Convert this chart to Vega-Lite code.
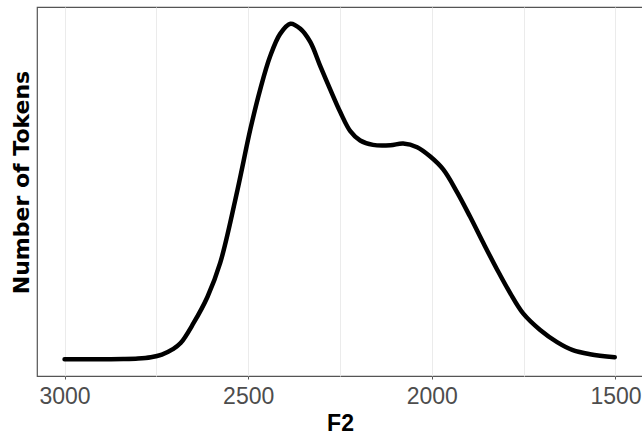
{
  "$schema": "https://vega.github.io/schema/vega-lite/v6.json",
  "autosize": "none",
  "padding": {"top": 7, "left": 37, "right": 0, "bottom": 60},
  "width": 606,
  "height": 369,
  "background": "white",
  "config": {
    "view": {"stroke": "#555555", "strokeWidth": 1.2}
  },
  "data": {
    "values": [
      {"F2": 3000, "n": 0.0},
      {"F2": 2902, "n": 0.0},
      {"F2": 2840, "n": 0.0005},
      {"F2": 2800, "n": 0.002},
      {"F2": 2765, "n": 0.006},
      {"F2": 2735, "n": 0.014},
      {"F2": 2705, "n": 0.030},
      {"F2": 2684, "n": 0.048},
      {"F2": 2649, "n": 0.107},
      {"F2": 2611, "n": 0.185},
      {"F2": 2576, "n": 0.287},
      {"F2": 2529, "n": 0.504},
      {"F2": 2494, "n": 0.684},
      {"F2": 2467, "n": 0.803},
      {"F2": 2440, "n": 0.901},
      {"F2": 2413, "n": 0.967},
      {"F2": 2385, "n": 0.997},
      {"F2": 2358, "n": 0.982},
      {"F2": 2331, "n": 0.943},
      {"F2": 2304, "n": 0.872},
      {"F2": 2277, "n": 0.803},
      {"F2": 2249, "n": 0.734},
      {"F2": 2222, "n": 0.678},
      {"F2": 2195, "n": 0.650},
      {"F2": 2160, "n": 0.637},
      {"F2": 2113, "n": 0.636},
      {"F2": 2078, "n": 0.641},
      {"F2": 2040, "n": 0.630},
      {"F2": 2005, "n": 0.603},
      {"F2": 1969, "n": 0.564},
      {"F2": 1931, "n": 0.496},
      {"F2": 1896, "n": 0.424},
      {"F2": 1860, "n": 0.346},
      {"F2": 1822, "n": 0.266},
      {"F2": 1787, "n": 0.197},
      {"F2": 1752, "n": 0.137},
      {"F2": 1705, "n": 0.087},
      {"F2": 1659, "n": 0.051},
      {"F2": 1616, "n": 0.027},
      {"F2": 1569, "n": 0.015},
      {"F2": 1502, "n": 0.006}
    ]
  },
  "mark": {"type": "line", "color": "black", "strokeWidth": 4.5, "interpolate": "catmull-rom", "strokeCap": "round"},
  "encoding": {
    "x": {
      "field": "F2",
      "type": "quantitative",
      "scale": {"domain": [1425, 3075], "reverse": true, "nice": false, "zero": false},
      "axis": {
        "title": "F2",
        "values": [3000, 2750, 2500, 2250, 2000, 1750, 1500],
        "labelExpr": "datum.value % 500 === 0 ? datum.label : ''",
        "format": "d",
        "grid": true,
        "gridColor": "#ebebeb",
        "gridWidth": 1,
        "domain": false,
        "ticks": true,
        "tickSize": 3,
        "tickColor": "#555555",
        "tickOpacity": {"condition": {"test": "datum.value % 500 === 0", "value": 1}, "value": 0},
        "labelFont": "Liberation Sans",
        "labelFontSize": 23,
        "labelColor": "#4d4d4d",
        "labelPadding": 6,
        "labelFlush": false,
        "labelOverlap": false,
        "titleFont": "Liberation Sans",
        "titleFontSize": 23,
        "titleFontWeight": "bold",
        "titleColor": "black",
        "titlePadding": 4
      }
    },
    "y": {
      "field": "n",
      "type": "quantitative",
      "scale": {"domain": [-0.04985, 1.04685], "nice": false, "zero": false},
      "axis": {
        "title": "Number of Tokens",
        "labels": false,
        "ticks": false,
        "grid": false,
        "domain": false,
        "titleFont": "DejaVu Sans",
        "titleFontSize": 22,
        "titleFontWeight": "bold",
        "titleColor": "black",
        "titlePadding": 4,
        "titleY": 175
      }
    }
  }
}
